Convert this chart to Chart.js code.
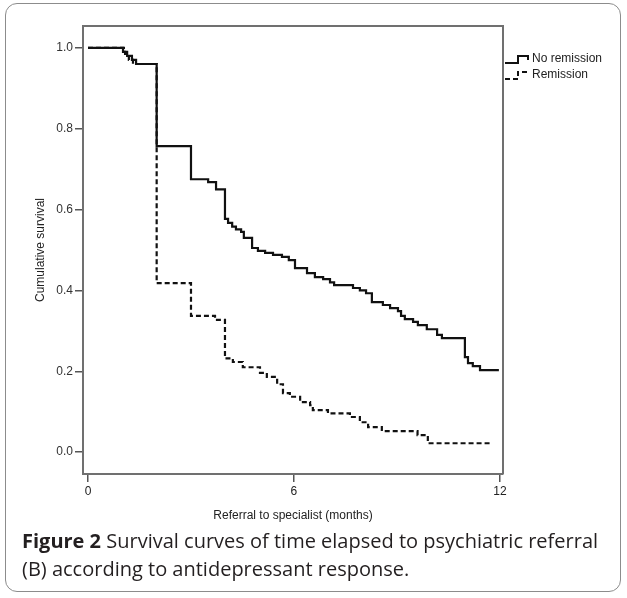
<!DOCTYPE html>
<html>
<head>
<meta charset="utf-8">
<script src="https://cdn.jsdelivr.net/npm/chart.js@4.4.1/dist/chart.umd.min.js"></script>
<style>
    html, body { margin: 0; padding: 0; background: #fff; }
    body { width: 627px; height: 598px; position: relative; overflow: hidden; }
    #frame {
        position: absolute; left: 5px; top: 3px; width: 614px; height: 587px;
        border: 1.5px solid #8c8c8c; border-radius: 12px;
    }
    #chartCanvas { position: absolute; left: 0; top: 0; }
    #caption {
        position: absolute; left: 22px; top: 527px; white-space: nowrap;
        font-family: 'Open Sans', sans-serif; font-size: 20px; line-height: 28px; color: #231f20;
    }
</style>
</head>
<body>
<div id="frame"></div>
<canvas id="chartCanvas" width="627" height="528"></canvas>
<div id="caption"><b>Figure 2</b> Survival curves of time elapsed to psychiatric referral<br>(B) according to antidepressant response.</div>
<script>
    // Kaplan-Meier steps (months, cumulative survival)
    const noRemissionTime = [0, 1.02, 1.14, 1.28, 1.40, 2.0, 3.0, 3.5, 3.73, 3.99, 4.08, 4.2, 4.31, 4.46, 4.54,
        4.78, 4.95, 5.16, 5.39, 5.65, 5.85, 6.03, 6.38, 6.61, 6.85, 7.05, 7.17, 7.72, 7.92, 8.1, 8.27,
        8.59, 8.8, 9.03, 9.12, 9.23, 9.47, 9.61, 9.87, 10.17, 10.31, 10.98, 11.07, 11.21, 11.42, 11.97];
    const noRemissionSurv = [1.0, 0.99, 0.98, 0.97, 0.96, 0.757, 0.675, 0.668, 0.65, 0.577, 0.567, 0.558, 0.551, 0.545, 0.53,
        0.505, 0.498, 0.493, 0.488, 0.483, 0.475, 0.455, 0.443, 0.433, 0.428, 0.42, 0.413, 0.406, 0.4, 0.393, 0.371,
        0.364, 0.356, 0.349, 0.337, 0.329, 0.322, 0.314, 0.304, 0.29, 0.282, 0.235, 0.22, 0.213, 0.203, 0.203];

    const remissionTime = [0, 1.08, 1.19, 1.31, 2.0, 3.0, 3.7, 3.99, 4.22, 4.51, 5.01, 5.21, 5.51, 5.68, 5.88,
        6.18, 6.47, 6.55, 6.99, 7.63, 7.92, 8.16, 8.56, 9.6, 9.9, 11.77];
    const remissionSurv = [1.0, 0.985, 0.97, 0.96, 0.418, 0.337, 0.327, 0.232, 0.223, 0.21, 0.196, 0.186, 0.168, 0.146, 0.137,
        0.124, 0.116, 0.104, 0.096, 0.087, 0.074, 0.062, 0.052, 0.042, 0.022, 0.022];

    const seriesNames = ['No remission', 'Remission'];
    const xTicks = [0, 6, 12];
    const yTicks = [0, 0.2, 0.4, 0.6, 0.8, 1.0];

    const narrowFont = "'Liberation Sans Narrow', 'Liberation Sans', Arial, sans-serif";

    function toPoints(times, values) {
        return times.map((t, i) => ({ x: t, y: values[i] }));
    }

    // box around the plot + legend on the right
    const framePlugin = {
        id: 'frameAndLegend',
        afterDraw(chart) {
            const ctx = chart.ctx;
            const a = chart.chartArea;
            ctx.save();
            ctx.strokeStyle = '#707070';
            ctx.lineWidth = 2;
            ctx.beginPath();
            ctx.moveTo(a.left, a.top);
            ctx.lineTo(a.right, a.top);
            ctx.lineTo(a.right, a.bottom);
            ctx.stroke();

            // legend
            const lx = a.right + 2;
            const rows = [a.top + 33, a.top + 49];
            ctx.strokeStyle = '#111';
            ctx.lineWidth = 2;
            ctx.setLineDash([]);
            ctx.beginPath();
            ctx.moveTo(lx, rows[0] + 4);
            ctx.lineTo(lx + 13, rows[0] + 4);
            ctx.lineTo(lx + 13, rows[0] - 3);
            ctx.lineTo(lx + 23, rows[0] - 3);
            ctx.lineTo(lx + 23, rows[0] + 1);
            ctx.stroke();

            ctx.setLineDash([5, 3]);
            ctx.beginPath();
            ctx.moveTo(lx, rows[1] + 4);
            ctx.lineTo(lx + 13, rows[1] + 4);
            ctx.lineTo(lx + 13, rows[1] - 3);
            ctx.lineTo(lx + 25, rows[1] - 3);
            ctx.stroke();
            ctx.setLineDash([]);

            ctx.fillStyle = '#222';
            ctx.font = '12px ' + narrowFont;
            ctx.textBaseline = 'middle';
            ctx.textAlign = 'left';
            ctx.fillText(seriesNames[0], lx + 27, rows[0]);
            ctx.fillText(seriesNames[1], lx + 27, rows[1]);
            ctx.restore();
        }
    };

    const canvas = document.getElementById('chartCanvas');
    new Chart(canvas, {
        type: 'line',
        data: {
            datasets: [
                {
                    label: seriesNames[0],
                    data: toPoints(noRemissionTime, noRemissionSurv),
                    borderColor: '#111',
                    borderWidth: 2.2,
                    stepped: 'before',
                    pointRadius: 0,
                    fill: false
                },
                {
                    label: seriesNames[1],
                    data: toPoints(remissionTime, remissionSurv),
                    borderColor: '#111',
                    borderWidth: 2.2,
                    borderDash: [5, 3],
                    stepped: 'before',
                    pointRadius: 0,
                    fill: false
                }
            ]
        },
        options: {
            responsive: false,
            animation: false,
            layout: { padding: { left: 0, top: 26, right: 124, bottom: 0 } },
            plugins: {
                legend: { display: false },
                tooltip: { enabled: false }
            },
            scales: {
                x: {
                    type: 'linear',
                    min: -0.146,
                    max: 12.09,
                    afterFit: function(scale) { scale.height = 54; },
                    afterBuildTicks: function(scale) { scale.ticks = xTicks.map(v => ({ value: v })); },
                    border: { display: true, color: '#707070', width: 2 },
                    grid: { drawOnChartArea: false, drawTicks: true, tickLength: 8, color: '#555', lineWidth: 1.5 },
                    ticks: {
                        padding: 2,
                        color: '#222',
                        font: { family: narrowFont, size: 12 },
                        maxRotation: 0,
                        callback: function(value) { return String(value); }
                    },
                    title: {
                        display: true,
                        text: 'Referral to specialist (months)',
                        color: '#222',
                        font: { family: narrowFont, size: 12 },
                        padding: { top: 0, bottom: 5 }
                    }
                },
                y: {
                    type: 'linear',
                    min: -0.054,
                    max: 1.054,
                    afterFit: function(scale) { scale.width = 83; },
                    afterBuildTicks: function(scale) { scale.ticks = yTicks.map(v => ({ value: v })); },
                    border: { display: true, color: '#707070', width: 2 },
                    grid: { drawOnChartArea: false, drawTicks: true, tickLength: 8, color: '#555', lineWidth: 1.5 },
                    ticks: {
                        padding: 2,
                        color: '#333',
                        font: { family: narrowFont, size: 12 },
                        callback: function(value) { return Number(value).toFixed(1); }
                    },
                    title: {
                        display: true,
                        text: 'Cumulative survival',
                        color: '#222',
                        font: { family: narrowFont, size: 12 },
                        padding: { top: 33, bottom: 0 }
                    }
                }
            }
        },
        plugins: [framePlugin]
    });
</script>
</body>
</html>
